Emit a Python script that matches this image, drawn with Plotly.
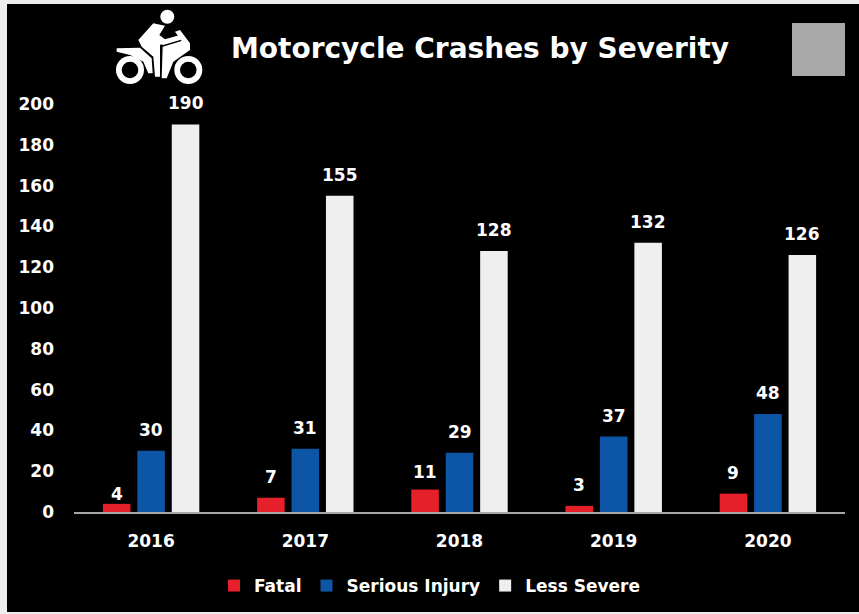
import plotly.graph_objects as go

W, H = 859, 614
L, R, T, B = 74, 845, 104, 512

categories = ["2016", "2017", "2018", "2019", "2020"]
fatal = [4, 7, 11, 3, 9]
serious = [30, 31, 29, 37, 48]
less_severe = [190, 155, 128, 132, 126]
y_ticks = list(range(0, 201, 20))

FONT = "DejaVu Sans"
BOLD = dict(family=FONT, size=17, color="white", weight="bold")
fig = go.Figure()
series = [("Fatal", fatal, "#e5202a", -34.5), ("Serious Injury", serious, "#0d56a6", 0),
          ("Less Severe", less_severe, "#efefef", 34.5)]
annotations = []
for name, vals, col, dx in series:
    fig.add_bar(x=categories, y=vals, name=name, marker=dict(color=col, line_width=0))
    for i, v in enumerate(vals):
        lift = {4: 10, 11: 18}.get(v, 21)
        annotations.append(dict(x=i, y=v, xref="x", yref="y", text=f"<b>{v}</b>", showarrow=False,
                                xshift=dx, yshift=lift, yanchor="middle", font=BOLD))


def px(x, y):
    return (x - L) / (R - L), (B - y) / (B - T)


def path(pts):
    s = []
    for i, (x, y) in enumerate(pts):
        a, b = px(x, y)
        s.append(("M" if i == 0 else "L") + f"{a:.5f},{b:.5f}")
    return " ".join(s) + " Z"


def rect(x0, y0, x1, y1, col, layer="below"):
    a, b = px(x0, y0)
    c, d = px(x1, y1)
    return dict(type="rect", xref="paper", yref="paper", x0=a, y0=b, x1=c, y1=d,
                fillcolor=col, line_width=0, layer=layer)


def circ(cx, cy, r, col):
    d = rect(cx - r, cy - r, cx + r, cy + r, col, "above")
    d["type"] = "circle"
    return d


def icon(pts):
    mapped = [(110 + x / 3, 5 + y / 3) for x, y in pts]
    return dict(type="path", xref="paper", yref="paper", path=path(mapped),
                fillcolor="white", line_width=0, layer="above")


shapes = [
    rect(0, 0, W, 4, "#eeeeee", "above"),
    rect(0, 0, 7, H, "#eeeeee", "above"),
    rect(0, 612, W, H, "#eeeeee", "above"),
    rect(792, 23, 845, 76, "#a8a8a8", "above"),
    circ(167.3, 16.7, 7, "white"),
    circ(130, 70, 14, "white"), circ(130, 70, 8.3, "black"),
    circ(188.3, 70, 14, "white"), circ(188.3, 70, 8.3, "black"),
    icon([(130, 55), (165, 62), (148, 90), (165, 103), (210, 90), (218, 103), (160, 120), (152, 118), (150, 122),
          (150, 215), (135, 215), (130, 155), (95, 125), (85, 105)]),
    icon([(158, 125), (215, 108), (195, 80), (210, 75), (240, 115), (240, 135), (190, 170), (170, 220), (155, 220)]),
    icon([(20, 130), (90, 128), (125, 160), (128, 205), (115, 205), (100, 170), (60, 150), (20, 140)]),
]

fig.update_layout(
    width=W, height=H, autosize=False,
    margin=dict(l=L, r=W - R, t=T, b=H - B),
    paper_bgcolor="black", plot_bgcolor="black",
    barmode="group", bargap=0.33, bargroupgap=0.2,
    title=dict(text="<b>Motorcycle Crashes by Severity</b>", x=480 / W, xanchor="center",
               y=1 - 48 / H, yanchor="middle", font=dict(family=FONT, size=28, color="white")),
    font=dict(family=FONT, color="white", size=17),
    legend=dict(orientation="h", x=0.5, xref="container", xanchor="center", y=1 - 586 / H, yref="container",
                yanchor="middle", font=BOLD, bgcolor="rgba(0,0,0,0)", itemwidth=30, traceorder="normal"),
    xaxis=dict(type="category", categoryorder="array", categoryarray=categories, range=[-0.5, 4.5],
               showgrid=False, showline=True, linecolor="#a6a6a6", linewidth=2, ticks="",
               tickfont=BOLD, ticklabelstandoff=13),
    yaxis=dict(range=[0, 200], tickvals=y_ticks, showgrid=False, zeroline=False, showline=False, ticks="",
               tickfont=BOLD, ticklabelstandoff=19),
    shapes=shapes, annotations=annotations,
    showlegend=True,
)
fig.write_html("out.html", config=dict(displayModeBar=False),
               post_script="document.body.style.margin='0';document.body.style.overflow='hidden';")
